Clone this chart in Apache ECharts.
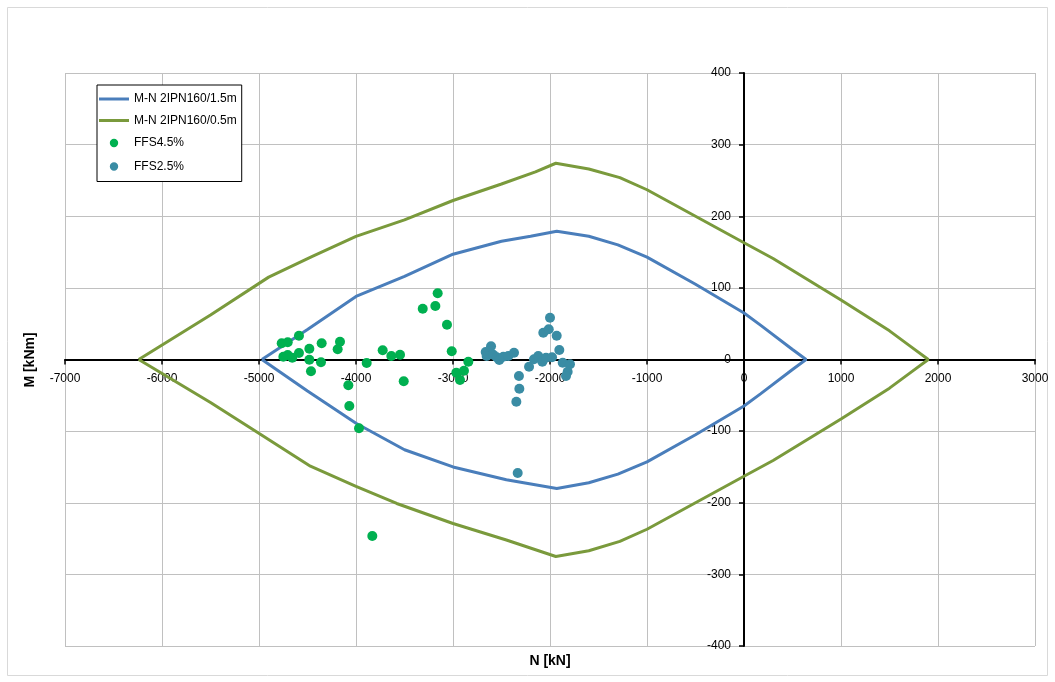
<!DOCTYPE html>
<html>
<head>
<meta charset="utf-8">
<script src="https://cdn.jsdelivr.net/npm/echarts@6/dist/echarts.min.js"></script>
<style>
html,body{margin:0;padding:0;background:#fff;}
#chart{width:1055px;height:682px;}
</style>
</head>
<body>
<div id="chart"></div>
<script>
// Interaction diagram M-N 2IPN160/1.5m  [N kN, M kNm]
const curve15 = [
  [-4970,0],[-4500,42],[-4000,88],[-3500,116],[-3000,147],[-2500,165],[-2200,172],[-1930,179],
  [-1600,172],[-1300,160],[-1000,143],[-500,105],[0,65],[170,48],[500,14],[640,0],
  [500,-14],[170,-48],[0,-65],[-500,-105],[-1000,-143],[-1300,-160],[-1600,-172],[-1930,-180],
  [-2450,-168],[-3000,-150],[-3500,-126],[-4000,-89],[-4500,-44],[-4970,0]
];
// Interaction diagram M-N 2IPN160/0.5m
const curve05 = [
  [-6240,0],[-5500,62],[-4900,115],[-4450,144],[-4000,172],[-3500,195],[-3000,222],[-2500,245],
  [-2150,262],[-1940,274],[-1600,266],[-1280,254],[-1000,237],[-500,200],[0,163],[300,141],
  [1000,83],[1500,40],[1720,18],[1900,0],
  [1720,-18],[1500,-40],[1000,-83],[300,-141],[0,-163],[-500,-200],[-1000,-237],[-1280,-254],
  [-1600,-267],[-1940,-275],[-2450,-252],[-3000,-229],[-3580,-201],[-4000,-177],[-4470,-149],
  [-4990,-104],[-5500,-60],[-6240,0]
];
// FFS4.5% points
const ffs45 = [
  [-4766,22.6],[-4704,24],[-4588,33.2],[-4749,3.9],[-4704,6.3],[-4657,2.5],[-4588,9.1],
  [-4481,15.1],[-4481,-0.3],[-4464,-16.5],[-4354,22.6],[-4361,-3.9],[-4165,24.9],[-4189,14.2],
  [-4079,-36],[-4069,-64.9],[-3969,-96],[-3890,-4.9],[-3725,12.8],[-3636,4.9],[-3546,6.7],
  [-3508,-30.4],[-3312,70.9],[-3182,74.7],[-3158,92.5],[-3062,48.6],[-3013,11.5],[-2966,-18.4],
  [-2928,-28.6],[-2887,-15.6],[-2842,-3.1],[-3832,-246.5]
];
// FFS2.5% points
const ffs25 = [
  [-2663,10.5],[-2608,18.4],[-2653,4.9],[-2585,6.7],[-2549,3.1],[-2523,-0.7],[-2481,3.9],
  [-2430,4.9],[-2371,9.5],[-2320,-23],[-2316,-40.8],[-2347,-58.9],[-2216,-10.1],[-2165,0.3],
  [-2121,4.9],[-2079,-3.1],[-2041,2.5],[-1979,3.1],[-2069,37.4],[-2013,42.2],[-2000,58.4],
  [-1931,33.2],[-1904,13.3],[-1869,-4.5],[-1794,-6.7],[-1818,-17],[-1835,-23],[-2333,-158.5]
];
const seriesNames = ['M-N 2IPN160/1.5m','M-N 2IPN160/0.5m','FFS4.5%','FFS2.5%'];
const xAxisTitle = 'N [kN]';
const yAxisTitle = 'M [kNm]';

const FONT = 'Liberation Sans, Arial, sans-serif';
const GRID = {left:65,right:20,top:73,bottom:36};
const W = 1055, H = 682;
const plotW = W - GRID.left - GRID.right, plotH = H - GRID.top - GRID.bottom;
const xMin=-7000, xMax=3000, yMin=-400, yMax=400;
// offsets so that the axes (with labels) sit on the zero lines
const xOffset = -plotH * (0 - yMin) / (yMax - yMin);
const yOffset = -plotW * (0 - xMin) / (xMax - xMin);

const LINE_ICON = 'path://M0,6H30V9H0Z';
const DOT_ICON = 'path://M0,0L0.01,0L0,0.01Z M30,15L29.99,15L30,14.99Z M10.5,7.5a4.5,4.5 0 1,0 9,0a4.5,4.5 0 1,0 -9,0Z';

const chart = echarts.init(document.getElementById('chart'), null, {renderer:'canvas'});
chart.setOption({
  animation:false,
  backgroundColor:'#fff',
  textStyle:{fontFamily:FONT},
  grid:Object.assign({containLabel:false}, GRID),
  xAxis:{
    type:'value',min:xMin,max:xMax,interval:1000,position:'bottom',offset:xOffset,
    axisLine:{onZero:false,lineStyle:{color:'#000',width:2}},
    axisTick:{show:true,inside:false,length:5,lineStyle:{color:'#000',width:1.5}},
    axisLabel:{color:'#000',fontSize:12,fontFamily:FONT,margin:13,formatter:v=>String(v)},
    splitLine:{show:true,lineStyle:{color:'#c0c0c0',width:1}}
  },
  yAxis:{
    type:'value',min:yMin,max:yMax,interval:100,position:'left',offset:yOffset,
    axisLine:{onZero:false,lineStyle:{color:'#000',width:2}},
    axisTick:{show:true,inside:false,length:5,lineStyle:{color:'#000',width:1.5}},
    axisLabel:{color:'#000',fontSize:12,fontFamily:FONT,margin:13,formatter:v=>String(v)},
    splitLine:{show:true,lineStyle:{color:'#c0c0c0',width:1}}
  },
  legend:{
    orient:'vertical',left:97,top:85,
    backgroundColor:'#fff',borderColor:'#000',borderWidth:1,borderRadius:0,
    padding:[8,5,8,2],itemGap:9.5,itemWidth:30,itemHeight:14,
    textStyle:{color:'#000',fontSize:12,fontFamily:FONT},
    data:[
      {name:seriesNames[0],icon:LINE_ICON},
      {name:seriesNames[1],icon:LINE_ICON},
      {name:seriesNames[2],icon:DOT_ICON},
      {name:seriesNames[3],icon:DOT_ICON}
    ]
  },
  graphic:[
    {type:'rect',shape:{x:7.5,y:7.5,width:1040,height:668},style:{fill:'none',stroke:'#d9d9d9',lineWidth:1},silent:true,z:-10},
    {type:'text',x:550,y:661,style:{text:xAxisTitle,font:'bold 14px '+FONT,fill:'#000',align:'center',verticalAlign:'middle'},silent:true},
    {type:'text',x:30,y:360,rotation:Math.PI/2,style:{text:yAxisTitle,font:'bold 14px '+FONT,fill:'#000',align:'center',verticalAlign:'middle'},silent:true}
  ],
  series:[
    {name:seriesNames[0],type:'line',data:curve15,symbol:'none',lineStyle:{color:'#4a7ebb',width:3},itemStyle:{color:'#4a7ebb'},z:2},
    {name:seriesNames[1],type:'line',data:curve05,symbol:'none',lineStyle:{color:'#7a9a3c',width:3},itemStyle:{color:'#7a9a3c'},z:2},
    {name:seriesNames[2],type:'scatter',data:ffs45,symbol:'circle',symbolSize:10,itemStyle:{color:'#00b050',opacity:1},z:3},
    {name:seriesNames[3],type:'scatter',data:ffs25,symbol:'circle',symbolSize:10,itemStyle:{color:'#3a8ca4',opacity:1},z:3}
  ]
});
</script>
</body>
</html>
